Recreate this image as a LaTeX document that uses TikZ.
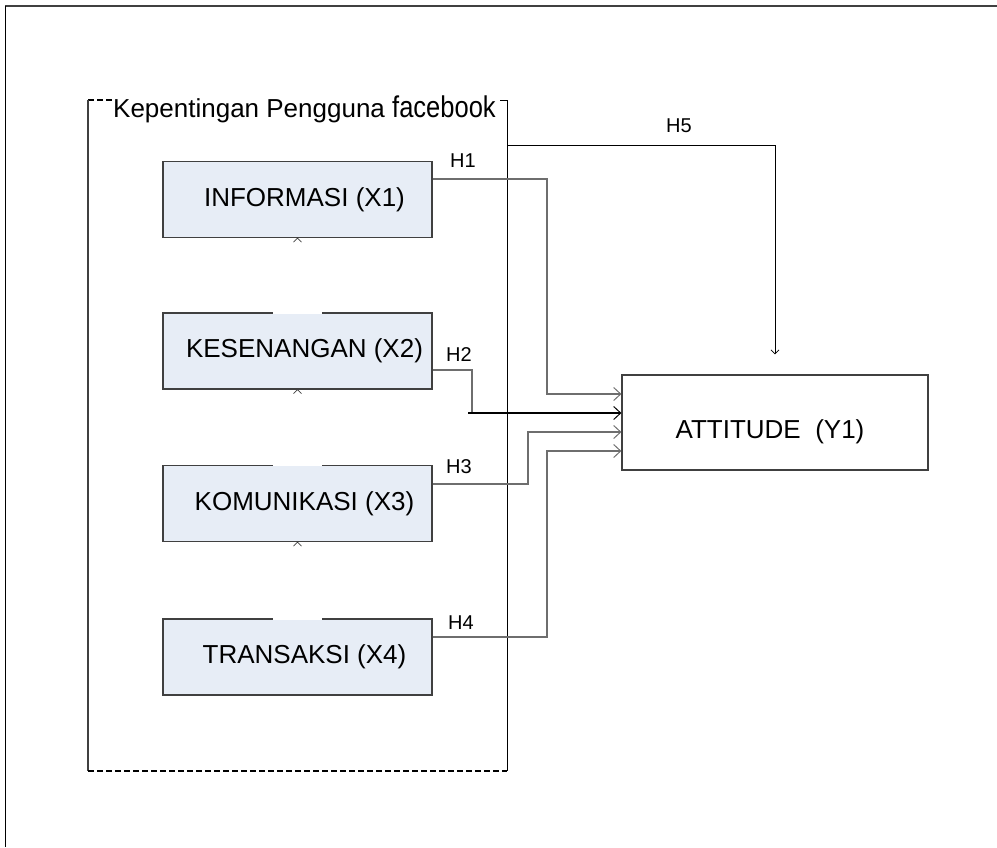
\documentclass[tikz,border=0pt]{standalone}
\usepackage{fontspec}
\setmainfont{Liberation Sans}
\usepackage{graphicx}
\usetikzlibrary{arrows.meta,calc}
\definecolor{boxfill}{RGB}{231,237,246}
\definecolor{boxline}{RGB}{64,64,64}
\definecolor{connline}{RGB}{110,110,110}

\begin{document}
\begin{tikzpicture}[x=1pt, y=-1pt,
  varbox/.style={draw=boxline, fill=boxfill, line width=1.2pt, minimum width=269pt, minimum height=76pt, inner sep=0pt, font=\fontsize{26}{30}\selectfont, execute at begin node={\hspace*{14pt}}},
  attbox/.style={draw=boxline, fill=white, line width=1.2pt, minimum width=306pt, minimum height=95pt, inner sep=0pt},
  conn/.style={draw=connline, line width=1.4pt},
  tip/.style={-{Straight Barb[length=7pt,width=13pt,line width=1pt]}},
  grpdash/.style={black, line width=1.1pt, dash pattern=on 6pt off 3pt},
  hlabel/.style={font=\fontsize{20}{24}\selectfont, inner sep=0pt}]
  \useasboundingbox (0,0) rectangle (997,847);
  \draw[boxline, line width=1.5pt] (5,6) -- (997,6);
  \draw[black, line width=0.8pt] (5,6) -- (5,847);
  % group frame
  \draw[grpdash] (88,100) -- (112,100);
  \draw[boxline, line width=1.4pt] (88,100) -- (88,771);
  \draw[grpdash] (88,771) -- (507,771);
  \draw[black, line width=0.9pt] (500,100) -- (507,100) -- (507,771);
  \node[anchor=base west, inner sep=0pt, font=\fontsize{26}{30}\selectfont] (grouptitle) at (113,117)
    {Kepentingan Pengguna \scalebox{0.85}[1]{\fontsize{30}{34}\selectfont facebook}};
  \coordinate (grpright) at (507,145);
  % variables
  \node[varbox] (x1) at (297.5,199.5) {INFORMASI (X1)};
  \node[varbox] (x2) at (297.5,351) {KESENANGAN (X2)};
  \node[varbox] (x3) at (297.5,503.5) {KOMUNIKASI (X3)};
  \node[varbox] (x4) at (297.5,657) {TRANSAKSI (X4)};
  \draw[white, line width=2.5pt] ([xshift=-24.5pt]x2.north) -- ([xshift=24.5pt]x2.north);
  \draw[white, line width=2.5pt] ([xshift=-24.5pt]x3.north) -- ([xshift=24.5pt]x3.north);
  \draw[white, line width=2.5pt] ([xshift=-24.5pt]x4.north) -- ([xshift=24.5pt]x4.north);
  \draw[boxline, line width=0.7pt] (x1.south) ++(-4,4) -- ++(4,-4) -- ++(4,4);
  \draw[boxline, line width=0.7pt] (x2.south) ++(-4,4) -- ++(4,-4) -- ++(4,4);
  \draw[boxline, line width=0.7pt] (x3.south) ++(-4,4) -- ++(4,-4) -- ++(4,4);
  \node[attbox] (att) at (775,422.5) {};
  \node[inner sep=0pt, font=\fontsize{26}{30}\selectfont] (attl) at (770,432) {ATTITUDE\ \ (Y1)};
  % paths
  \coordinate (h1) at (547,394);
  \coordinate (h2) at (472,413);
  \coordinate (h3) at (528,432);
  \coordinate (h4) at (547,451);
  \draw[conn, tip] ([yshift=20.5pt]x1.east) -| (h1) -- (h1 -| att.west);
  \draw[conn] ([yshift=-19pt]x2.east) -| (h2);
  \draw[black, line width=1.3pt, tip] ([xshift=-4pt]h2) -- (h2 -| att.west);
  \draw[conn, tip] ([yshift=19.5pt]x3.east) -| (h3) -- (h3 -| att.west);
  \draw[conn, tip] ([yshift=20pt]x4.east) -| (h4) -- (h4 -| att.west);
  \draw[black, line width=0.9pt, -{Straight Barb[length=4pt,width=8pt,line width=0.8pt]}] (grpright) -| ([yshift=20pt]att.north);
  \node[hlabel] (lh1) at (463,161) {H1};
  \node[hlabel] (lh2) at (459,355) {H2};
  \node[hlabel] (lh3) at (459,466.5) {H3};
  \node[hlabel] (lh4) at (461,623) {H4};
  \node[hlabel] (lh5) at (679,125.5) {H5};
\end{tikzpicture}
\end{document}
